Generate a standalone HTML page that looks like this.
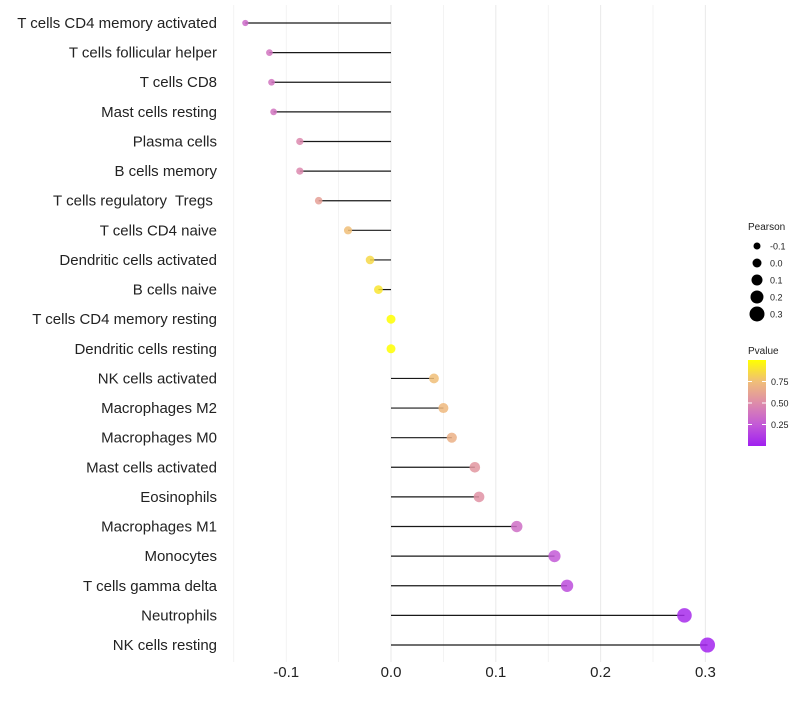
<!DOCTYPE html>
<html><head><meta charset="utf-8"><style>
body{margin:0;background:#fff;font-family:"Liberation Sans",sans-serif}
text{white-space:pre}
</style></head><body>
<svg id="chart" width="800" height="700"></svg>
<script>
const categories=["T cells CD4 memory activated","T cells follicular helper","T cells CD8","Mast cells resting","Plasma cells","B cells memory","T cells regulatory  Tregs ","T cells CD4 naive","Dendritic cells activated","B cells naive","T cells CD4 memory resting","Dendritic cells resting","NK cells activated","Macrophages M2","Macrophages M0","Mast cells activated","Eosinophils","Macrophages M1","Monocytes","T cells gamma delta","Neutrophils","NK cells resting"];
const pearson=[-0.139,-0.116,-0.114,-0.112,-0.087,-0.087,-0.069,-0.041,-0.020,-0.012,0.0,0.0,0.041,0.050,0.058,0.080,0.084,0.120,0.156,0.168,0.280,0.302];
const pvalue=[0.33,0.38,0.38,0.38,0.48,0.48,0.6,0.75,0.85,0.9,1.0,1.0,0.75,0.72,0.68,0.55,0.53,0.35,0.25,0.2,0.05,0.02];
const xTicks=[-0.1,0.0,0.1,0.2,0.3];
const sizeLegend=[-0.1,0.0,0.1,0.2,0.3];
const colorTicks=[0.25,0.5,0.75];
const NS="http://www.w3.org/2000/svg";
const svg=document.getElementById('chart');
function mk(t,a,p){const e=document.createElementNS(NS,t);for(const k in a)e.setAttribute(k,a[k]);(p||svg).appendChild(e);return e;}
const x=v=>391+v*1048;
const y=i=>23+i*(622/21);
const r=v=>Math.max(1.5,4.5+v*10);
function col(p){const stops=[[0,[160,32,240]],[0.25,[195,90,215]],[0.5,[222,140,170]],[0.75,[240,190,120]],[1,[255,255,0]]];
for(let i=0;i<stops.length-1;i++){const a=stops[i],b=stops[i+1];if(p<=b[0]){const t=(p-a[0])/(b[0]-a[0]);return 'rgb('+a[1].map((c,j)=>Math.round(c+(b[1][j]-c)*t)).join(',')+')';}}return 'rgb(255,255,0)';}
for(let v=-0.15;v<=0.31;v+=0.05){const g=mk('line',{x1:x(v),x2:x(v),y1:5,y2:662,stroke:'#ebebeb','stroke-width':Math.abs((v*20)%2)>0.5?0.6:1.1});
}
xTicks.forEach(v=>{const t=mk('text',{x:x(v),y:677,'text-anchor':'middle','font-size':15,fill:'#222'});t.textContent=v.toFixed(1);
});
categories.forEach((c,i)=>{
const t=mk('text',{x:217,y:y(i)+5,'text-anchor':'end','font-size':15,fill:'#222'});t.textContent=c;

const l=mk('line',{x1:x(0),x2:x(pearson[i]),y1:y(i),y2:y(i),stroke:'#000','stroke-width':1.2,'stroke-opacity':0.9});

const d=mk('circle',{cx:x(pearson[i]),cy:y(i),r:r(pearson[i]),fill:col(pvalue[i]),'fill-opacity':0.85});

});
let t=mk('text',{x:748,y:230,'font-size':10,fill:'#222'});t.textContent='Pearson';

sizeLegend.forEach((v,i)=>{const cy=246+i*17;const c=mk('circle',{cx:757,cy:cy,r:r(v),fill:'#000'});

const tt=mk('text',{x:770,y:cy+3.5,'font-size':9,fill:'#222'});tt.textContent=v.toFixed(1);
});
t=mk('text',{x:748,y:354,'font-size':10,fill:'#222'});t.textContent='Pvalue';

const defs=mk('defs',{});const lg=mk('linearGradient',{id:'g',x1:0,y1:1,x2:0,y2:0},defs);
[0,0.25,0.5,0.75,1].forEach(p=>mk('stop',{offset:p,'stop-color':col(p)},lg));
const bar=mk('rect',{x:748,y:360,width:18,height:86,fill:'url(#g)'});

colorTicks.forEach(v=>{const cy=446-v*86;mk('line',{x1:748,x2:752,y1:cy,y2:cy,stroke:'#fff'});mk('line',{x1:762,x2:766,y1:cy,y2:cy,stroke:'#fff'});
const tt=mk('text',{x:771,y:cy+3.5,'font-size':9,fill:'#222'});tt.textContent=v.toFixed(2);
});
</script>
</body></html>
